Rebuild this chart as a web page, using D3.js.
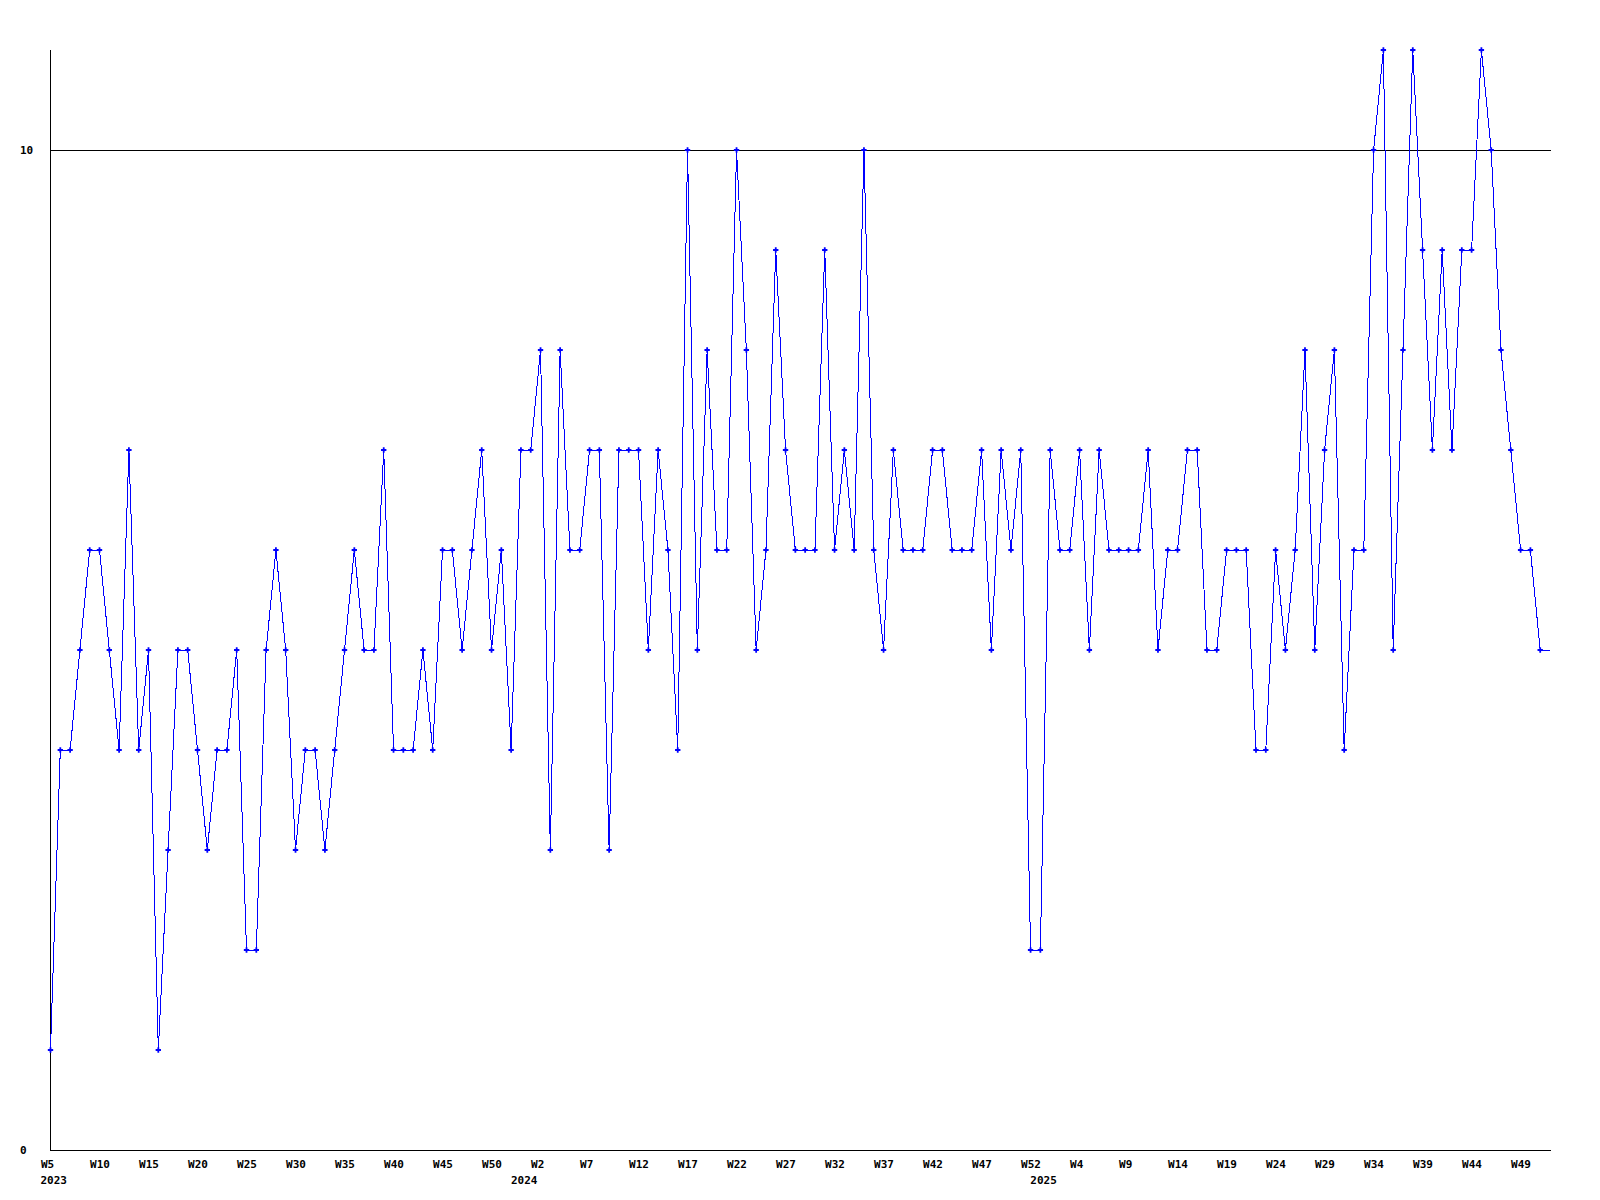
<!DOCTYPE html>
<html>
<head>
<meta charset="utf-8">
<script src="https://cdn.jsdelivr.net/npm/d3@7"></script>
<style>
  body { margin: 0; background: #fff; }
  text { font-family: "DejaVu Sans Mono", monospace; font-weight: bold; font-size: 11px; fill: #000; }
</style>
</head>
<body>
<script>
// weekly values, 2023 W5 .. 2025 W52 (last week still open, drawn without marker)
var values = [
  1, 4, 4, 5, 6, 6, 5, 4, 7, 4, 5, 1, 3, 5, 5, 4, 3, 4, 4, 5,
  2, 2, 5, 6, 5, 3, 4, 4, 3, 4, 5, 6, 5, 5, 7, 4, 4, 4, 5, 4,
  6, 6, 5, 6, 7, 5, 6, 4, 7, 7, 8, 3, 8, 6, 6, 7, 7, 3, 7, 7,
  7, 5, 7, 6, 4, 10, 5, 8, 6, 6, 10, 8, 5, 6, 9, 7, 6, 6, 6, 9,
  6, 7, 6, 10, 6, 5, 7, 6, 6, 6, 7, 7, 6, 6, 6, 7, 5, 7, 6, 7,
  2, 2, 7, 6, 6, 7, 5, 7, 6, 6, 6, 6, 7, 5, 6, 6, 7, 7, 5, 5,
  6, 6, 6, 4, 4, 6, 5, 6, 8, 5, 7, 8, 4, 6, 6, 10, 11, 5, 8, 11,
  9, 7, 9, 7, 9, 9, 11, 10, 8, 7, 6, 6, 5, 5
]

// week ticks (index into values) and their labels
var tickWeeks = [0, 5, 10, 15, 20, 25, 30, 35, 40, 45, 50, 55, 60, 65, 70, 75,
  80, 85, 90, 95, 100, 105, 110, 115, 120, 125, 130, 135, 140, 145, 150]
var tickLabels = ["W5", "W10", "W15", "W20", "W25", "W30", "W35", "W40", "W45", "W50",
  "W2", "W7", "W12", "W17", "W22", "W27", "W32", "W37", "W42", "W47", "W52",
  "W4", "W9", "W14", "W19", "W24", "W29", "W34", "W39", "W44", "W49"]
var yearWeeks = [0, 48, 101]
var yearLabels = ["2023", "2024", "2025"]

var yTicks = [0, 10]

var width = 1600,
    height = 1200
var plotLeft = 50.5, plotRight = 1550, plotTop = 50, plotBottom = 1150

var x = d3.scaleLinear().domain([0, values.length - 1]).range([plotLeft, plotRight])
var y = d3.scaleLinear().domain([0, 11]).range([plotBottom, plotTop])

var svg = d3.select("body").append("svg")
    .attr("width", width)
    .attr("height", height)

// horizontal rules at the y ticks
svg.append("g")
    .selectAll("line")
    .data(yTicks)
    .enter().append("line")
    .attr("x1", plotLeft - 0.5)
    .attr("x2", plotRight + 1)
    .attr("y1", d => Math.round(y(d)) + 0.5)
    .attr("y2", d => Math.round(y(d)) + 0.5)
    .attr("stroke", "#000")

// y axis line
svg.append("line")
    .attr("x1", 50.5).attr("x2", 50.5)
    .attr("y1", plotTop).attr("y2", plotBottom + 1)
    .attr("stroke", "#000")

svg.append("g")
    .selectAll("text")
    .data(yTicks)
    .enter().append("text")
    .attr("x", 20)
    .attr("y", d => y(d) + 4)
    .text(d => d)

// x labels, left edge sits 10px before the week
var xAxis = d3.axisBottom(x)
    .tickValues(tickWeeks)
    .tickFormat((d, i) => tickLabels[i])
    .tickSize(0)
svg.append("g")
    .attr("transform", `translate(0,${plotBottom})`)
    .call(xAxis)
    .call(g => g.select(".domain").remove())
    .call(g => g.selectAll("text")
        .attr("text-anchor", "start")
        .attr("x", -10)
        .attr("y", 20)
        .attr("dy", "-0.2em")
        .attr("font-family", null)
        .attr("font-size", null))

svg.append("g")
    .selectAll("text")
    .data(yearWeeks)
    .enter().append("text")
    .attr("x", d => x(d) - 10)
    .attr("y", plotBottom + 34)
    .text((d, i) => yearLabels[i])

var line = d3.line()
    .x((d, i) => x(i))
    .y(d => y(d))

svg.append("path")
    .datum(values)
    .attr("d", line)
    .attr("fill", "none")
    .attr("stroke", "#0000ff")
    .attr("stroke-width", 1)
    .attr("shape-rendering", "crispEdges")

var marker = d3.symbol().type(d3.symbolCross).size(16)
svg.append("g")
    .selectAll("path")
    .data(values.slice(0, values.length - 1))
    .enter().append("path")
    .attr("d", marker)
    .attr("transform", (d, i) => `translate(${x(i)},${y(d)})`)
    .attr("fill", "#0000ff")
</script>
</body>
</html>
